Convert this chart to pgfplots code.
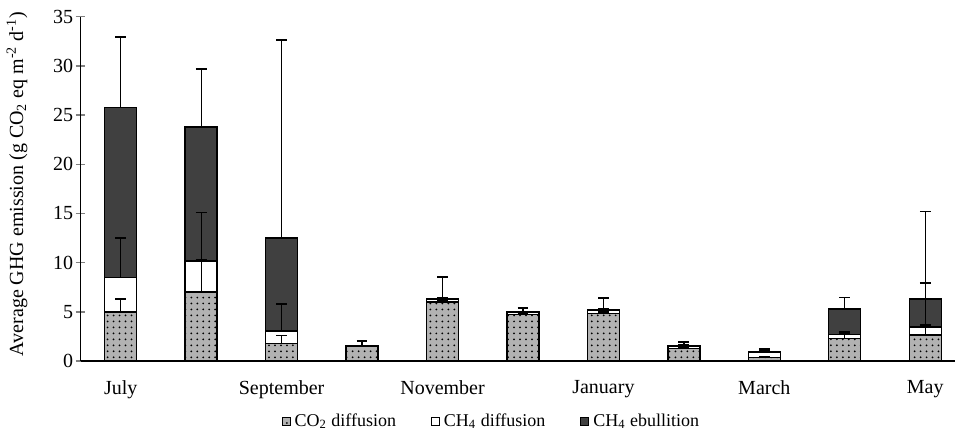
\documentclass[border=0pt]{standalone}
\usepackage{fontspec}
\setmainfont{Liberation Serif}
\usepackage{pgfplots}
\usepackage{pgfplotstable}
\pgfplotsset{compat=1.18}
\usetikzlibrary{patterns}

\definecolor{co2gray}{RGB}{178,178,178}
\definecolor{ebdark}{RGB}{64,64,64}

% month index, CO2 diffusion, CH4 diffusion, CH4 ebullition
\pgfplotstableread{
x co2 ch4d eb
0 5.0 3.5 17.3
1 7.0 3.15 13.65
2 1.75 1.3 9.45
3 1.5 0.05 0.0
4 6.0 0.3 0.05
5 4.7 0.25 0.02
6 4.85 0.3 0.05
7 1.3 0.2 0.05
8 0.35 0.55 0.05
9 2.3 0.4 2.6
10 2.65 0.8 2.85
}\bars

% segment tops and their (upper) standard deviations
\pgfplotstableread{
x t1 e1 t2 e2 t3 e3
0 5.0 1.3 8.5 4.0 25.8 7.1
1 7.0 3.3 10.15 4.95 23.8 5.9
2 1.75 0.85 3.05 2.75 12.5 20.1
3 1.5 0.0 1.55 0.45 1.55 0.0
4 6.0 0.1 6.3 0.15 6.35 2.15
5 4.7 0.1 4.95 0.05 4.97 0.38
6 4.85 0.1 5.15 0.1 5.2 1.2
7 1.3 0.1 1.5 0.1 1.55 0.4
8 0.35 0.1 0.9 0.1 0.95 0.25
9 2.3 0.68 2.7 0.1 5.3 1.15
10 2.65 1.0 3.45 4.45 6.3 8.9
}\errs

\pgfplotsset{
  common/.style={
    scale only axis,
    width=437.25bp, height=172.15bp,
    xmin=-0.5, xmax=10.37,
    ymin=0, ymax=35,
  },
  errbar/.style={
    draw=none, mark=none,
    error bars/.cd, y dir=plus, y explicit, error mark=|,
    error bar style={draw=black, solid, line width=0.65bp},
    error mark options={draw=black, solid, line width=0.9bp, mark size=2.7bp},
  },
}

\begin{document}
\begin{tikzpicture}
\begin{axis}[
  common,
  ybar stacked,
  bar width=16bp,
  axis lines=left,
  axis line style={-, line width=0.7bp},
  tick align=center,
  major tick length=5bp,
  xtick={0,2,4,6,8,10},
  xticklabels={July,September,November,January,March,May},
  xtick style={draw=none},
  ytick={0,5,...,35},
  ytick style={line width=0.7bp},
  /pgf/number format/assume math mode=true,
  ticklabel style={font=\fontsize{10bp}{12bp}\selectfont},
  yticklabel style={inner sep=0pt, xshift=-1bp},
  xticklabel style={inner sep=0pt, anchor=north, yshift=-7bp},
  ylabel={Average GHG emission (g CO\textsubscript{2} eq m\textsuperscript{-2} d\textsuperscript{-1})},
  ylabel style={at={(axis description cs:-0.0726,0.514)}, anchor=center,
    font=\fontsize{10bp}{12bp}\selectfont},
  legend columns=-1,
  legend style={at={(axis description cs:0.471,-0.177)}, anchor=center, draw=none,
    font=\fontsize{9bp}{11bp}\selectfont, inner sep=0pt,
    /tikz/every even column/.append style={column sep=15.5bp}},
  legend image code/.code={\draw[#1, line width=0.5bp] (0bp,-2bp) rectangle (4bp,2bp);},
  every axis plot/.append style={draw=black, line width=0.7bp},
]
\addplot[fill=co2gray, postaction={pattern=dots, pattern color=black}]
  table[x=x, y=co2] {\bars};
\addplot[fill=white] table[x=x, y=ch4d] {\bars};
\addplot[fill=ebdark] table[x=x, y=eb] {\bars};
\legend{CO\textsubscript{2} diffusion, CH\textsubscript{4} diffusion, CH\textsubscript{4} ebullition}
\end{axis}
\begin{axis}[common, hide axis]
\addplot[errbar] table[x=x, y=t1, y error=e1] {\errs};
\addplot[errbar] table[x=x, y=t2, y error=e2] {\errs};
\addplot[errbar] table[x=x, y=t3, y error=e3] {\errs};
\end{axis}
\pgfresetboundingbox
\path (-40.25bp,-37bp) rectangle (437.75bp,180.5bp);
\end{tikzpicture}
\end{document}
